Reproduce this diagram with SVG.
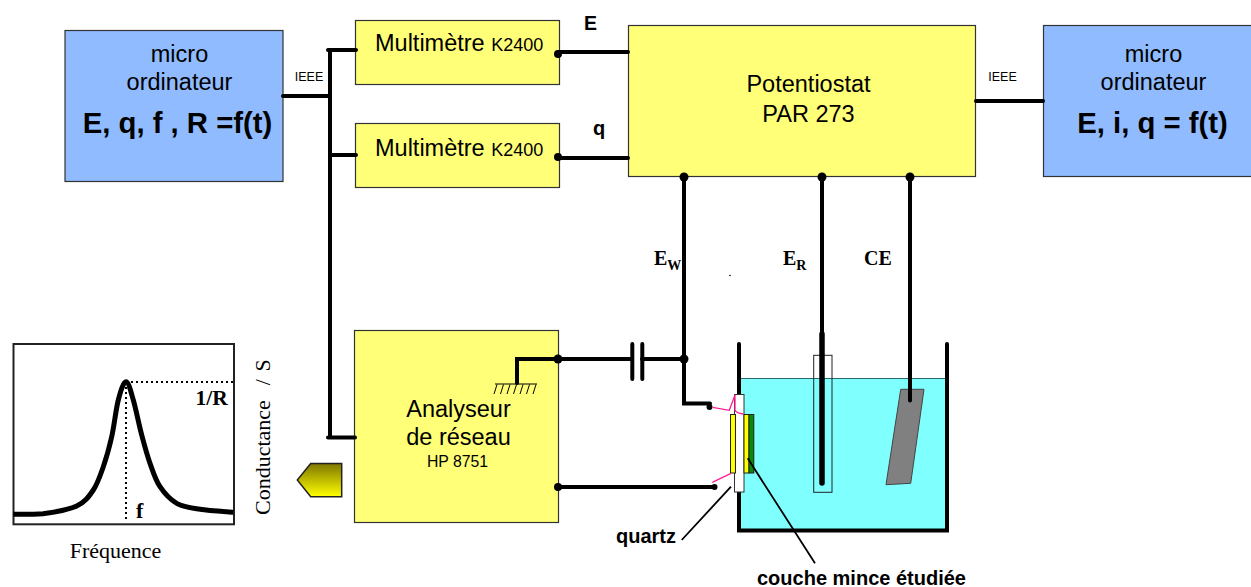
<svg xmlns="http://www.w3.org/2000/svg" width="1251" height="587" viewBox="0 0 1251 587">
<style>
text{font-family:"Liberation Sans",Arial,sans-serif;fill:#000}
.s{font-family:"Liberation Serif","Times New Roman",serif}
.b{font-weight:bold}
.m{text-anchor:middle}
.t{font-size:23.500px}
.k{font-size:18px}
.big{font-size:29.300px;font-weight:bold;text-anchor:middle}
.blue{fill:#90bbff;stroke:#333;stroke-width:1.200}
.yel{fill:#ffff78;stroke:#333;stroke-width:1.200}
.w{fill:none;stroke:#000;stroke-width:4;stroke-linecap:round}
.p{fill:none;stroke:#ff1f8f;stroke-width:1.300}
.th{fill:none;stroke:#222;stroke-width:1}
</style>
<defs>
<linearGradient id="g" x1="0" y1="0" x2="0" y2="1"><stop offset="0" stop-color="#7f7700"/><stop offset="1" stop-color="#ffff00"/></linearGradient>
</defs>
<g id="cell">
<rect x="739" y="379" width="208" height="151" fill="#80ffff"/>
<path d="M739 378.500H947" stroke="#2a6a6a" stroke-width="1.200" fill="none"/>
<path d="M739 344V530.500H947V344" class="w" stroke-linejoin="miter"/>
<path d="M900.700 389.300H924L910.700 483.300L886 484.700Z" fill="#808080" stroke="#444" stroke-width="1"/>
</g>
<g id="micro-left">
<rect x="65" y="30.500" width="218" height="151" class="blue"/>
<text x="179.500" y="62" class="t m">micro</text>
<text x="179.500" y="90" class="t m">ordinateur</text>
<text x="177.500" y="133" class="big">E, q, f , R =f(t)</text>
</g>
<g id="multimetre-1">
<rect x="355.500" y="20.500" width="204" height="64" class="yel"/>
<text x="375" y="51" class="t">Multimètre <tspan class="k">K2400</tspan></text>
</g>
<g id="multimetre-2">
<rect x="355.500" y="123.500" width="204" height="64" class="yel"/>
<text x="375" y="156" class="t">Multimètre <tspan class="k">K2400</tspan></text>
</g>
<g id="potentiostat">
<rect x="628.500" y="25.500" width="347" height="151" class="yel"/>
<text x="808.500" y="92" class="t m">Potentiostat</text>
<text x="808.500" y="122" class="t m">PAR 273</text>
</g>
<g id="micro-right">
<rect x="1043.500" y="25.500" width="218" height="151" class="blue"/>
<text x="1153.500" y="62" class="t m">micro</text>
<text x="1153.500" y="90" class="t m">ordinateur</text>
<text x="1152.500" y="133" class="big">E, i, q = f(t)</text>
</g>
<g id="analyseur">
<rect x="354.500" y="330.500" width="204" height="192" class="yel"/>
<text x="458.500" y="417" class="t m">Analyseur</text>
<text x="458.500" y="445" class="t m">de réseau</text>
<text x="457.500" y="467" font-size="15.800" class="m">HP 8751</text>
</g>
<g id="connectors">
<path d="M283 96H330M330 50V437.500M328 50H356M330 155H356M328 437.500H355" class="w"/>
<path d="M558 52H628M558 158H628" class="w"/>
<path d="M976 101H1043" class="w"/>
<path d="M684 177V403.500H710" class="w" stroke-linejoin="miter"/>
<path d="M558 359H632M642 359H684" class="w"/>
<path d="M632.300 344V379M642.300 344V379" class="w"/>
<path d="M558 487H714" class="w"/>
<path d="M517 383V359H558" class="w" stroke-linejoin="miter"/>
<path d="M822 177V340" class="w"/>
<path d="M910 177V400.500" class="w"/>
<g fill="#000">
<circle cx="558" cy="54" r="4"/><circle cx="558" cy="157" r="4"/>
<circle cx="558" cy="359" r="4.500"/><circle cx="558" cy="487" r="4"/>
<circle cx="684" cy="177" r="4.500"/><circle cx="822" cy="177" r="4.500"/><circle cx="910" cy="177" r="4.500"/>
<circle cx="684" cy="359" r="4.500"/><circle cx="709.500" cy="407" r="3"/><circle cx="714.500" cy="487" r="3"/>
</g>
<path d="M495 384H537M494 394L497 384.500M500.500 394L503.500 384.500M507 394L510 384.500M513.500 394L516.500 384.500M520 394L523 384.500M526.500 394L529.500 384.500M533 394L536 384.500" stroke="#000" stroke-width="1" fill="none"/>
</g>
<g id="labels">
<text x="309" y="81" font-size="12.500" class="m">IEEE</text>
<text x="1002.500" y="81" font-size="12.500" class="m">IEEE</text>
<text x="584" y="30" font-size="19.500" class="b">E</text>
<text x="593" y="135" font-size="20" class="b">q</text>
<text x="654" y="265" font-size="20" class="s b">E<tspan font-size="14" dy="5">W</tspan></text>
<text x="783" y="265" font-size="20" class="s b">E<tspan font-size="14" dy="5">R</tspan></text>
<text x="864" y="265" font-size="20" class="s b">CE</text>
<circle cx="730" cy="275.500" r="0.800" fill="#000"/>
<text x="616" y="543" font-size="20" class="b">quartz</text>
<text x="757" y="585" font-size="20" class="b">couche mince étudiée</text>
</g>
<g id="electrodes">
<rect x="813.700" y="355.300" width="18.300" height="137" fill="none" stroke="#222" stroke-width="1"/>
<path d="M822 334V483" fill="none" stroke="#000" stroke-width="5.500" stroke-linecap="round"/>
</g>
<g id="quartz">
<rect x="734.500" y="394.500" width="9.500" height="97.500" fill="#fff" stroke="#333" stroke-width="1"/>
<rect x="730.500" y="414.500" width="5" height="58.500" fill="#ffff00" stroke="#222" stroke-width="1"/>
<rect x="744" y="414.500" width="5" height="58.500" fill="#ffff00" stroke="#222" stroke-width="1"/>
<rect x="749" y="414.500" width="4.800" height="58.500" fill="#0a8a0a" stroke="#222" stroke-width="1"/>
<path d="M712.700 407.300L729.300 410.300L735 395V410Q736 413 743.300 414M731 473.300L712.300 482.300" class="p"/>
<path d="M681.700 540L731 486.700M747.700 458.300L815 563.300" stroke="#000" stroke-width="1.800" fill="none"/>
</g>
<g id="graph">
<rect x="13.500" y="344" width="220.500" height="180.300" fill="none" stroke="#222" stroke-width="2"/>
<path d="M126 382H233M126 382V522" fill="none" stroke="#000" stroke-width="2" stroke-dasharray="2 3"/>
<path d="M13.300 514.300C18.300 514.200 32.400 514.500 43 513.700C53.600 512.300 68.300 510 76.700 506C85.100 502 88.900 496.600 93.300 490C97.700 483.400 100.200 475.600 103.300 466.700C106.400 457.800 109.200 447.800 111.700 436.700C114.200 425.600 115.900 409.200 118.300 400C120.700 390.800 123.500 381.700 126 381.700C128.500 381.700 130.700 391.100 133.300 400C135.900 408.900 138.900 424.400 141.700 435C144.500 445.600 146.900 454.700 150 463.300C153.100 471.900 155.500 480 160 486.700C164.500 493.400 170 499.500 176.700 503.300C183.400 507.100 190.600 507.800 200 509.300C209.400 510.800 227.800 511.800 233.300 512.300" fill="none" stroke="#000" stroke-width="5"/>
<text x="195.500" y="405" font-size="21.500" class="s b">1/R</text>
<text x="136" y="518" font-size="22" class="s b">f</text>
<text x="115.500" y="557.500" font-size="22" class="s m">Fréquence</text>
<text transform="translate(270 515) rotate(-90)" font-size="22" word-spacing="2" class="s" xml:space="preserve">Conductance  / S</text>
</g>
<g id="probe">
<path d="M341.700 463.500V496.700H310.700L297.300 480L310.700 463.500Z" fill="url(#g)" stroke="#222" stroke-width="1.500"/>
</g>
</svg>
